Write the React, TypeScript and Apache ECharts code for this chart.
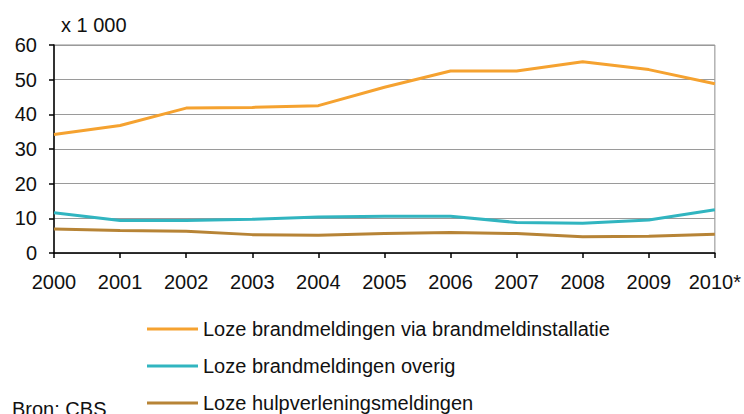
import React, { useEffect, useRef } from "react";
import * as echarts from "echarts";

const years = ["2000", "2001", "2002", "2003", "2004", "2005", "2006", "2007", "2008", "2009", "2010*"];
const viaInstallatie = [34.2, 36.8, 41.8, 42.0, 42.5, 47.8, 52.5, 52.5, 55.2, 52.9, 48.8];
const overig = [11.6, 9.4, 9.4, 9.7, 10.4, 10.6, 10.6, 8.8, 8.6, 9.5, 12.5];
const hulpverlening = [6.9, 6.5, 6.3, 5.3, 5.1, 5.6, 5.9, 5.6, 4.7, 4.8, 5.4];
const seriesNames = [
  "Loze brandmeldingen via brandmeldinstallatie",
  "Loze brandmeldingen overig",
  "Loze hulpverleningsmeldingen",
];
const colors = ["#F5A230", "#31B5C0", "#B78436"];
const FONT = "'Liberation Sans', Arial, sans-serif";

export default function App() {
  const ref = useRef<HTMLDivElement>(null);
  useEffect(() => {
    if (!ref.current) return;
    const chart = echarts.init(ref.current, null, { renderer: "svg" });
    const mk = (name: string, data: number[], color: string) => ({
      name,
      type: "line",
      data,
      symbol: "none",
      lineStyle: { color, width: 3 },
      itemStyle: { color },
    });
    const legendTops = [319, 356, 393];
    chart.setOption({
      animation: false,
      backgroundColor: "#ffffff",
      textStyle: { fontFamily: FONT },
      grid: {
        left: 54,
        right: 26,
        top: 45,
        bottom: 161,
        show: true,
        borderColor: "#8c8c8c",
        borderWidth: 1,
        backgroundColor: "transparent",
      },
      xAxis: {
        type: "category",
        data: years,
        boundaryGap: false,
        axisLine: { show: true, lineStyle: { color: "#000", width: 1.5 } },
        axisTick: { show: true, length: 5, alignWithLabel: true, lineStyle: { color: "#000", width: 1.5 } },
        axisLabel: { color: "#111", fontSize: 20, fontFamily: FONT, margin: 19, interval: 0 },
        splitLine: { show: false },
      },
      yAxis: {
        type: "value",
        min: 0,
        max: 60,
        interval: 10,
        axisLine: { show: true, lineStyle: { color: "#000", width: 1.5 } },
        axisTick: { show: true, length: 5, lineStyle: { color: "#000", width: 1.5 } },
        axisLabel: { color: "#111", fontSize: 20, fontFamily: FONT, margin: 17 },
        splitLine: { show: true, lineStyle: { color: "#9a9a9a", width: 1.2 } },
      },
      legend: seriesNames.map((n, i) => ({
        orient: "horizontal",
        left: 147,
        top: legendTops[i],
        padding: 0,
        itemWidth: 51,
        itemHeight: 3,
        icon: "rect",
        data: [n],
        textStyle: { color: "#111", fontSize: 20, fontFamily: FONT },
      })),
      graphic: [
        {
          type: "text",
          left: 61,
          top: 15,
          style: { text: "x 1 000", fontSize: 20, fontFamily: FONT, fill: "#111" },
        },
        {
          type: "text",
          left: 12,
          top: 399,
          style: { text: "Bron: CBS", fontSize: 20, fontFamily: FONT, fill: "#111" },
        },
      ],
      series: [
        mk(seriesNames[0], viaInstallatie, colors[0]),
        mk(seriesNames[1], overig, colors[1]),
        mk(seriesNames[2], hulpverlening, colors[2]),
      ],
    });
    return () => chart.dispose();
  }, []);
  return (
    <div
      ref={ref}
      style={{ position: "fixed", left: 0, top: 0, width: 744, height: 414, background: "#fff" }}
    />
  );
}
